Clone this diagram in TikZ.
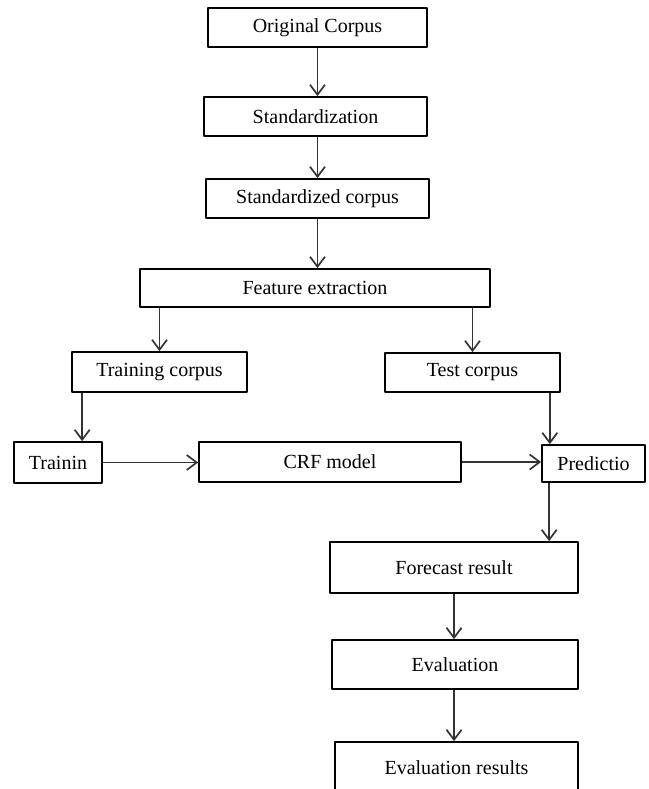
\documentclass[tikz,border=0pt]{standalone}
\usepackage{fontspec}
\setmainfont{Liberation Serif}
\usetikzlibrary{arrows.meta}
\tikzset{
  stepbox/.style={draw, line width=1.7pt, inner sep=0pt,
    font=\fontsize{20}{24}\selectfont},
  flow/.style={draw=black!80, line width=1.7pt,
    -{Straight Barb[length=10pt,width=15pt,line width=1.7pt]}}
}
\begin{document}
\begin{tikzpicture}[x=1pt,y=-1pt,line join=round]
  \clip (0,0) rectangle (648,789);
  \useasboundingbox (0,0) rectangle (648,789);
  % main column
  \node[stepbox, minimum width=219pt, minimum height=39pt] (orig) at (317.5,27.5) {Original Corpus};
  \node[stepbox, minimum width=223pt, minimum height=39pt] (stdz) at (315.5,116.5) {Standardization};
  \node[stepbox, minimum width=223pt, minimum height=39pt] (stdcorp) at (317.5,198.5) {Standardized corpus};
  \node[stepbox, minimum width=350pt, minimum height=38pt] (feat) at (315,288) {Feature extraction};
  % two branches
  \node[stepbox, minimum width=175pt, minimum height=40pt] (train) at (159.5,372) {Training corpus};
  \node[stepbox, minimum width=175pt, minimum height=39pt] (test) at (472.5,372.5) {Test corpus};
  \node[stepbox, minimum width=88pt, minimum height=41pt] (trainin) at (58,462.5) {Trainin};
  \node[stepbox, minimum width=262pt, minimum height=40pt] (crf) at (330,462) {CRF model};
  \node[stepbox, minimum width=103pt, minimum height=37pt] (pred) at (593.5,463.5) {Predictio};
  % results
  \node[stepbox, minimum width=248pt, minimum height=51pt] (forecast) at (454,567.5) {Forecast result};
  \node[stepbox, minimum width=246pt, minimum height=49pt] (eval) at (455,664.5) {Evaluation};
  \node[stepbox, minimum width=243pt, minimum height=62pt] (evalres) at (456.5,773) {};
  \node[font=\fontsize{20}{24}\selectfont] (evalrestext) at (456.5,768) {Evaluation results};

  \draw[flow] (orig) -- (orig |- stdz.north);
  \draw[flow] (orig |- stdz.south) -- (orig |- stdcorp.north);
  \draw[flow] (stdcorp) -- (stdcorp |- feat.north);
  \draw[flow] (feat.south -| train) -- (train);
  \draw[flow] (feat.south -| test) -- (test);
  \draw[flow] ([xshift=11pt]train.south west) -- ([xshift=11pt]train.south west |- trainin.north);
  \draw[flow] ([xshift=-11pt]test.south east) -- ([xshift=-11pt]test.south east |- pred.north);
  \draw[flow] (trainin) -- (trainin -| crf.west);
  \draw[flow] (crf) -- (crf -| pred.west);
  \draw[flow] ([xshift=8pt]pred.south west) -- ([xshift=8pt]pred.south west |- forecast.north);
  \draw[flow] (forecast) -- (forecast |- eval.north);
  \draw[flow] (forecast |- eval.south) -- (forecast |- evalres.north);
\end{tikzpicture}
\end{document}
